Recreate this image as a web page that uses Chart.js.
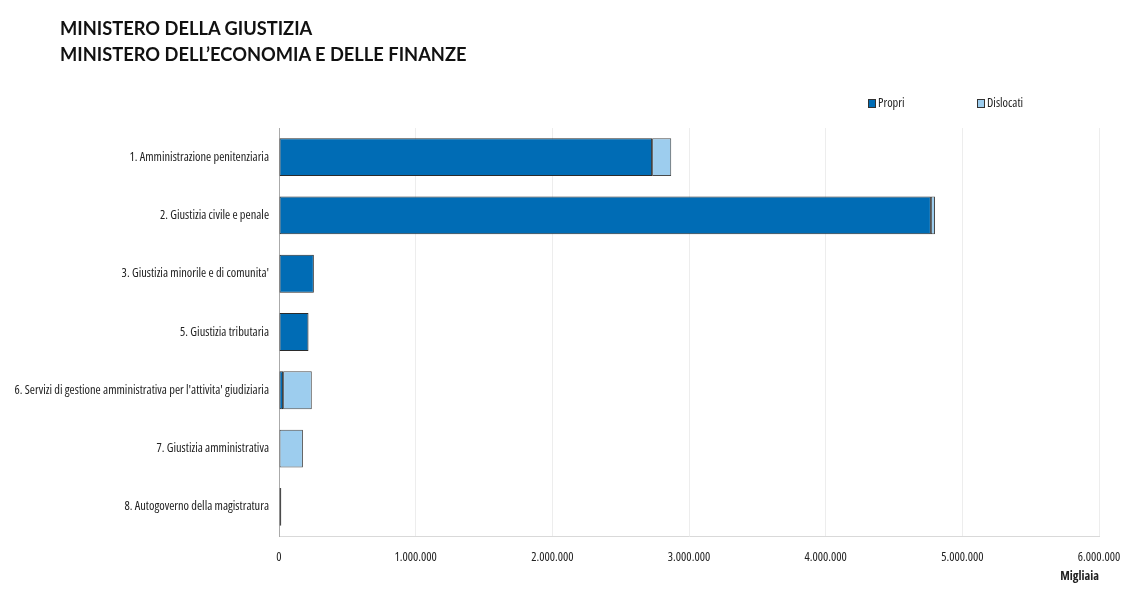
<!DOCTYPE html>
<html>
<head>
<meta charset="utf-8">
<script src="https://cdn.jsdelivr.net/npm/chart.js@4"></script>
<style>
    body { margin: 0; background: #fff; }
    #wrap { position: relative; width: 1147px; height: 596px; }
    #chart { position: absolute; left: 0; top: 0; }
    .title { position: absolute; left: 60px; font: bold 18.3px Lato, sans-serif; color: #111; }
    .leg { position: absolute; top: 94px; font: 12.4px "Open Sans", sans-serif; font-stretch: condensed; color: #222; }
    .leg span { display: inline-block; width: 6px; height: 7px; border: 1px solid #333; margin-right: 2px; vertical-align: -1px; }
</style>
</head>
<body>
<div id="wrap">
    <canvas id="chart" width="1147" height="596"></canvas>
    <div class="title" style="top:17px">MINISTERO DELLA GIUSTIZIA</div>
    <div class="title" style="top:43px">MINISTERO DELL’ECONOMIA E DELLE FINANZE</div>
    <div class="leg" style="left:868px"><span style="background:#006cb5"></span>Propri</div>
    <div class="leg" style="left:977px"><span style="background:#9dcdee"></span>Dislocati</div>
</div>
<script>
const categories = [
    '1. Amministrazione penitenziaria',
    '2. Giustizia civile e penale',
    "3. Giustizia minorile e di comunita'",
    '5. Giustizia tributaria',
    "6. Servizi di gestione amministrativa per l'attivita' giudiziaria",
    '7. Giustizia amministrativa',
    '8. Autogoverno della magistratura'
];
// migliaia di euro
const propri = [2730000, 4770000, 255000, 215000, 30000, 0, 0];
const dislocati = [140000, 30000, 0, 3000, 210000, 175000, 17000];

const PROPRI_COLOR = '#006cb5';
const DISLOCATI_COLOR = '#9dcdee';
// 'condensed' passed in the weight slot so the canvas picks the narrow face
const FONT = { family: '"Open Sans", sans-serif', size: 12.4, weight: 'condensed' };

const fmt = v => String(v).replace(/\B(?=(\d{3})+(?!\d))/g, '.');

new Chart(
    document.getElementById('chart').getContext('2d'),
    {
        type: 'bar',
        data: {
            labels: categories,
            datasets: [{
                label: 'Propri',
                data: propri,
                backgroundColor: PROPRI_COLOR,
                borderColor: '#2b2b2b',
                borderWidth: 1,
                borderSkipped: false
            }, {
                label: 'Dislocati',
                data: dislocati,
                backgroundColor: DISLOCATI_COLOR,
                borderColor: '#4a4a4a',
                borderWidth: 1,
                borderSkipped: false
            }]
        },
        options: {
            indexAxis: 'y',
            responsive: false,
            animation: false,
            layout: { padding: { top: 128, right: 48, left: 0, bottom: 0 } },
            datasets: { bar: { categoryPercentage: 0.65, barPercentage: 1 } },
            plugins: {
                legend: { display: false },
                tooltip: { enabled: false }
            },
            scales: {
                x: {
                    stacked: true,
                    min: 0,
                    max: 6000000,
                    ticks: {
                        stepSize: 1000000,
                        padding: 14,
                        color: '#222',
                        font: FONT,
                        callback: v => fmt(v)
                    },
                    grid: { color: '#ededed', drawTicks: false },
                    border: { color: '#d9d9d9' },
                    title: {
                        display: true,
                        text: 'Migliaia',
                        align: 'end',
                        color: '#222',
                        font: { family: '"Open Sans", sans-serif', size: 12.4, weight: 'bold condensed' },
                        padding: { top: 2, bottom: 12 }
                    },
                    afterFit: scale => { scale.height = 60; }
                },
                y: {
                    stacked: true,
                    ticks: {
                        padding: 10,
                        color: '#222',
                        font: FONT
                    },
                    grid: { display: false, drawTicks: false },
                    border: { color: '#aaa' },
                    afterFit: scale => { scale.width = 279; }
                }
            }
        }
    });
</script>
</body>
</html>
